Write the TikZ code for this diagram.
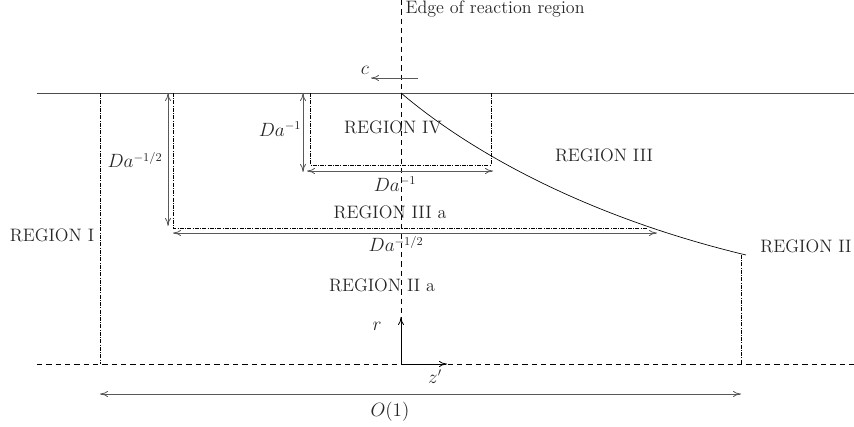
\documentclass[tikz,border=0pt]{standalone}
\usetikzlibrary{arrows.meta}
\begin{document}
\begin{tikzpicture}[x=0.75pt,y=-0.75pt,
  lin/.style={line width=0.6pt,black!70},
  dashln/.style={line width=0.5pt,dash pattern=on 4pt off 3pt},
  dashdot/.style={line width=0.4pt,dash pattern=on 3pt off 1pt on 0.6pt off 1pt},
  dimarrow/.style={line width=0.6pt,black!65,{To[length=6pt,width=4.5pt]}-{To[length=6pt,width=4.5pt]}},
  onearrow/.style={line width=0.6pt,-{To[length=6pt,width=4.5pt]}},
  lbl/.style={inner sep=1pt,font=\fontsize{13.5}{16}\selectfont,text=black!85}]
\useasboundingbox (0,0) rectangle (854,427);
% main lines
\coordinate (tl) at (37,93); \coordinate (tr) at (854,93);
\coordinate (bl) at (37,364); \coordinate (br) at (854,364);
\coordinate (vt) at (401,0); \coordinate (vb) at (401,364);
\draw[lin] (tl) -- (tr);
\draw[dashln] (bl) -- (br);
\draw[dashln] (vt) -- (vb);
\node[lbl,anchor=west] (edge) at (404,9) {Edge of reaction region};
% c arrow
\coordinate (c1) at (418,78); \coordinate (c2) at (371,78);
\draw[onearrow,black!65] (c1) -- (c2);
\node[lbl] (clab) at (365,70) {$c$};
% curve
\coordinate (cs) at (401,93); \coordinate (ce) at (746,255);
\draw[line width=0.5pt] (cs) .. controls (480,160) and (600,220) .. (ce);
% region boundaries
\coordinate (r1t) at (100,93); \coordinate (r1b) at (100,364);
\draw[dashdot] (r1t) -- (r1b);
\coordinate (r2t) at (741,255); \coordinate (r2b) at (741,364);
\draw[dashdot] (r2t) -- (r2b);
% O(1)
\coordinate (o1) at (100,394); \coordinate (o2) at (741,394);
\draw[dimarrow] (o1) -- (o2);
\node[lbl] (olab) at (390,412) {$O(1)$};
% region III a box
\coordinate (a1) at (173,93); \coordinate (a2) at (173,228); \coordinate (a3) at (648,228);
\draw[dashdot] (a1) -- (a2) -- (a3);
\coordinate (h1) at (173,233); \coordinate (h2) at (657,233);
\draw[dimarrow] (h1) -- (h2);
\node[lbl] (hlab) at (396,244) {$Da^{-1/2}$};
\coordinate (v1) at (168,93); \coordinate (v2) at (168,226);
\draw[dimarrow] (v1) -- (v2);
\node[lbl] (vlab) at (135,160) {$Da^{-1/2}$};
% region IV box
\coordinate (b1) at (310,93); \coordinate (b2) at (310,165); \coordinate (b3) at (491,165); \coordinate (b4) at (491,93);
\draw[dashdot] (b1) -- (b2) -- (b3) -- (b4);
\coordinate (g1) at (307,171); \coordinate (g2) at (493,171);
\draw[dimarrow] (g1) -- (g2);
\node[lbl] (glab) at (395,184) {$Da^{-1}$};
\coordinate (w1) at (303,93); \coordinate (w2) at (303,172);
\draw[dimarrow] (w1) -- (w2);
\node[lbl] (wlab) at (280,129) {$Da^{-1}$};
% axes
\coordinate (ax0) at (401,364); \coordinate (axr) at (401,317); \coordinate (axz) at (447,364);
\draw[onearrow] (ax0) -- (axr);
\draw[onearrow] (ax0) -- (axz);
\node[lbl] (rlab) at (377,326) {$r$};
\node[lbl] (zlab) at (435,377) {$z'$};
% region labels
\node[lbl] (R1) at (52,235) {REGION I};
\node[lbl] (R2) at (806,246) {REGION II};
\node[lbl] (R3) at (604,155) {REGION III};
\node[lbl] (R4) at (393,127) {REGION IV};
\node[lbl] (R3a) at (390,212) {REGION III a};
\node[lbl] (R2a) at (382,285) {REGION II a};
\end{tikzpicture}
\end{document}
